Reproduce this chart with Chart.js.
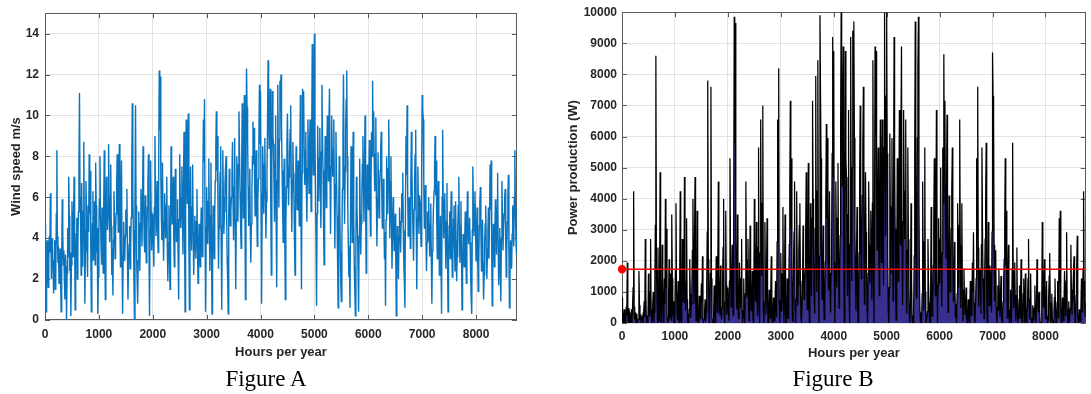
<!DOCTYPE html>
<html>
<head>
<meta charset="utf-8">
<script src="https://cdn.jsdelivr.net/npm/chart.js@4.4.1/dist/chart.umd.min.js"></script>
<style>
  html, body { margin: 0; padding: 0; background: #fff; }
  body { width: 1091px; height: 394px; position: relative; overflow: hidden; }
  canvas { position: absolute; top: 0; }
  #windChart { left: 0; }
  #powerChart { left: 540px; }
  .caption {
    position: absolute; top: 365px; line-height: 28px;
    font-family: "Liberation Serif", "DejaVu Serif", serif; font-size: 23px;
    color: #000; white-space: nowrap; transform: translateX(-50%);
  }
</style>
</head>
<body>
<canvas id="windChart" width="530" height="370"></canvas>
<canvas id="powerChart" width="551" height="370"></canvas>
<div class="caption" style="left:266px">Figure A</div>
<div class="caption" style="left:833px">Figure B</div>

<script>
// Sample spacing along the year, in hours
const HOUR_STEP = 10;

// Wind speed (m/s), one value every 10 h from hour 0 to 8760 (100 values per 1000 h)
const windSpeed = [
  // 0 - 990 h
  4.7,2.6,0.4,3.1,3.9,2.2,1.6,3.0,4.1,3.3, 6.2,3.8,2.0,4.0,3.6,2.5,1.3,2.9,3.9,1.5,
  2.1,5.2,8.3,4.1,2.8,3.6,1.8,2.4,3.5,1.9, 0.4,2.8,5.9,4.2,2.7,3.4,1.9,1.0,3.2,2.6,
  0.0,2.3,4.5,3.1,7.0,5.1,2.4,3.3,0.2,2.7, 5.8,4.6,3.1,5.0,7.0,3.9,0.5,2.9,4.2,5.0,
  2.0,3.6,5.3,7.4,11.1,6.0,4.9,2.2,6.7,4.1, 2.6,5.3,8.7,4.4,0.8,3.4,6.8,5.4,3.5,2.1,
  5.6,4.3,8.1,5.2,7.3,3.5,0.4,2.6,4.7,6.3, 2.9,3.9,5.8,2.7,7.7,5.6,3.3,4.5,0.3,2.1,
  // 1000 - 1990 h
  4.2,5.9,8.0,5.1,3.6,2.7,5.5,4.0,2.3,5.6, 8.3,3.4,1.0,4.5,7.0,6.1,4.4,5.3,8.6,6.0,
  3.8,5.4,7.6,4.6,2.2,3.5,1.2,3.9,6.3,4.9, 3.0,4.3,5.2,6.6,8.1,5.8,4.3,6.9,8.6,4.7,
  2.6,5.0,7.8,3.2,0.3,2.9,4.8,3.5,2.9,4.1, 5.4,4.4,6.4,3.1,1.0,2.8,3.7,4.6,2.5,3.6,
  5.0,7.2,10.6,6.3,4.4,2.1,0.0,5.8,10.5,5.6, 3.1,1.9,0.8,2.9,5.3,4.1,2.4,4.7,6.4,5.2,
  3.6,6.0,8.5,5.8,4.0,3.3,6.1,4.2,2.8,4.0, 5.5,6.7,8.1,3.6,0.2,4.4,7.8,5.3,3.4,4.6,
  // 2000 - 2990 h
  5.2,3.7,2.6,5.5,9.0,6.2,4.1,5.0,6.8,4.6, 3.3,7.5,12.2,9.3,11.9,7.0,5.0,3.9,7.7,4.8,
  2.9,4.4,6.2,5.1,4.0,5.6,7.0,3.6,1.9,3.8, 5.6,3.2,1.5,4.9,8.5,6.3,4.7,5.9,7.0,4.1,
  2.6,5.2,7.4,5.0,3.8,4.7,5.9,3.3,1.0,4.9, 8.1,6.0,4.5,5.8,7.5,5.1,3.2,6.7,9.2,4.1,
  0.4,6.5,9.8,7.2,5.7,8.0,10.1,3.9,0.5,4.4, 7.5,5.2,3.4,5.5,7.6,4.3,2.2,3.6,5.1,4.0,
  3.0,4.8,6.4,3.7,1.8,3.4,4.7,3.5,2.6,4.2, 5.5,4.0,3.1,6.9,9.8,7.7,10.8,4.6,0.4,3.8,
  // 3000 - 3990 h
  6.5,4.9,3.7,5.8,7.9,4.6,2.4,5.1,7.7,3.5, 0.3,3.2,5.6,4.4,3.0,5.2,6.8,8.4,10.2,7.3,
  9.0,5.6,2.5,4.5,6.1,7.2,8.5,3.9,0.5,4.6, 8.3,6.0,4.2,5.3,6.6,7.4,8.0,5.5,3.1,2.0,
  0.3,5.1,7.4,5.9,4.6,5.4,6.0,7.1,8.7,5.8, 3.9,6.5,8.9,4.8,1.5,4.9,8.0,6.2,4.8,7.6,
  10.2,8.1,6.3,4.7,3.5,7.3,10.6,7.0,5.0,8.3, 11.0,5.9,1.0,6.4,12.3,10.4,9.0,6.5,4.6,6.0,
  7.4,4.5,2.8,4.7,6.2,8.0,9.7,7.6,9.4,6.8, 5.1,7.0,8.3,5.4,3.6,5.8,6.9,9.1,11.5,8.6,
  // 4000 - 4990 h
  11.2,6.2,0.8,5.5,8.5,7.0,5.2,7.6,8.9,6.3, 4.0,5.8,7.1,9.6,12.7,9.9,8.4,10.2,11.3,5.9,
  2.2,7.4,11.2,9.0,8.6,6.7,4.8,7.7,10.0,5.1, 1.6,6.8,11.5,8.1,5.5,8.8,11.7,10.8,12.0,9.4,
  7.3,5.5,3.8,6.4,7.9,4.2,1.0,4.6,6.5,8.6, 10.1,7.5,5.6,7.0,8.2,9.3,10.5,6.9,4.3,6.6,
  8.7,7.2,6.0,3.9,2.2,5.8,8.5,6.8,5.4,6.7, 7.8,6.1,4.6,8.0,11.0,5.6,1.5,7.2,11.3,9.5,
  11.2,8.3,6.6,8.1,9.2,6.5,4.8,7.4,9.8,8.0, 6.2,8.6,9.8,7.0,5.3,9.2,13.5,9.0,7.1,10.3,
  // 5000 - 5990 h
  14.0,9.1,6.4,3.8,0.7,5.2,9.5,7.4,5.8,7.9, 9.4,6.8,4.5,8.2,11.5,9.0,7.3,4.6,2.7,6.0,
  9.0,7.1,5.5,7.9,10.0,8.4,6.8,9.6,11.3,7.2, 4.2,7.5,10.0,8.3,7.0,8.1,9.8,6.2,3.5,6.6,
  9.2,7.0,5.1,2.9,0.6,4.4,8.0,5.6,3.3,1.8, 0.9,3.9,6.4,9.1,12.0,7.5,4.7,7.3,9.4,10.8,
  12.2,8.0,5.3,3.6,2.1,3.0,0.6,4.9,8.5,6.1, 3.8,6.9,9.2,5.0,2.6,1.4,0.2,3.7,7.0,5.5,
  4.4,2.5,0.4,4.1,7.9,5.2,3.2,4.7,6.1,7.6, 9.0,6.3,4.8,7.7,10.0,5.9,2.3,5.3,7.6,6.4,
  // 6000 - 6990 h
  5.4,7.0,8.8,6.1,4.1,6.5,9.2,8.0,11.7,8.6, 10.2,7.7,6.3,8.1,9.9,6.0,3.6,5.7,8.2,6.6,
  5.0,6.2,7.3,8.3,9.2,6.4,4.5,5.3,6.9,5.0, 3.0,4.3,0.7,4.9,8.0,6.6,5.2,7.4,9.8,6.8,
  4.0,6.3,8.0,5.1,2.5,4.2,6.0,4.6,3.4,4.4, 5.2,3.0,0.2,3.1,4.6,3.7,2.0,4.1,5.5,4.5,
  3.3,4.8,6.2,5.0,7.2,4.4,2.7,1.8,0.6,5.6, 9.0,7.1,10.5,6.7,4.1,5.2,6.0,5.6,3.5,6.8,
  9.2,7.3,5.6,4.2,2.9,5.4,7.0,8.1,9.3,4.7, 1.5,5.0,7.5,5.8,4.2,6.1,5.8,4.9,3.6,7.2,
  // 7000 - 7990 h
  11.0,10.3,9.8,6.8,4.5,5.2,6.6,4.1,2.4,3.8, 5.3,3.9,6.0,4.6,3.1,4.7,5.7,2.9,0.8,3.4,
  4.4,5.5,6.3,7.4,9.0,6.1,7.8,5.0,3.0,5.6, 6.8,4.0,2.2,3.8,5.1,2.6,0.3,6.0,9.3,5.9,
  4.0,5.4,6.2,4.1,2.5,4.8,6.7,3.2,0.4,3.0, 4.6,5.3,3.0,4.9,6.3,3.6,2.1,3.4,4.9,5.6,
  3.5,2.4,5.8,3.9,1.9,3.1,4.4,5.6,7.0,4.3, 2.8,4.6,5.8,3.0,0.5,2.3,4.2,3.6,2.6,4.0,
  5.3,3.3,1.8,4.2,6.3,5.0,3.7,4.6,5.0,3.8, 2.2,1.0,0.3,4.4,7.5,5.7,4.1,5.1,6.3,4.5,
  // 8000 - 8760 h
  2.9,4.3,5.5,3.2,1.4,2.7,4.6,5.7,6.5,4.4, 2.4,3.6,4.9,2.8,1.0,2.2,3.8,4.7,5.6,3.5,
  2.0,3.1,4.4,5.5,3.0,5.0,7.6,5.4,7.8,3.6, 0.7,2.9,4.7,3.9,2.6,4.4,5.9,4.8,3.2,5.5,
  7.2,3.9,1.7,3.0,4.5,2.4,0.9,4.0,6.8,5.1, 3.4,4.5,5.2,5.9,6.4,4.0,2.1,3.3,4.8,6.0,
  7.1,3.4,0.6,2.8,3.9,3.1,2.5,4.2,5.6,4.6, 3.6,6.0,8.3,5.5,4.0,3.2,4.4
];

// Turbine power production (W) at the same hours
const powerOutput = [
  // 0 - 990 h
  820,70,0,190,440,0,0,160,520,240, 1950,400,0,480,340,50,0,140,440,0,
  0,1140,4240,520,110,340,0,0,300,0, 0,110,1670,570,90,270,0,0,220,70,
  0,0,700,190,2700,1070,0,240,0,90, 1590,760,190,1000,2700,440,0,140,570,1000,
  0,340,1210,3140,8600,1750,940,0,2430,520, 70,1210,4850,660,0,270,2520,1280,300,0,
  1430,610,3990,1140,3030,300,0,70,820,2050, 140,440,1590,90,3490,1430,240,700,0,0,
  // 1000 - 1990 h
  570,1670,3850,1070,340,90,1350,480,0,1430, 4240,270,0,700,2700,1850,660,1210,4700,1750,
  400,1280,3370,760,0,300,0,440,2050,940, 160,610,1140,2340,3990,1590,610,2610,4700,820,
  70,1000,3610,220,0,140,880,300,140,520, 1280,660,2150,190,0,110,370,760,50,340,
  1000,2920,7800,2050,660,0,0,1590,7600,1430, 190,0,0,140,1210,520,0,820,2150,1140,
  340,1750,4550,1590,480,240,1850,570,110,480, 1350,2430,3990,340,0,660,3610,1210,270,760,
  // 2000 - 2990 h
  1140,370,70,1350,5300,1950,520,1000,2520,760, 240,3250,9850,5800,9650,2700,1000,440,3490,880,
  140,660,1950,1070,480,1430,2700,340,0,400, 1430,220,0,940,4550,2050,820,1670,2700,520,
  70,1140,3140,1000,400,820,1670,240,0,940, 3990,1750,700,1590,3250,1070,220,2430,5650,520,
  0,2250,6550,2920,1510,3850,7000,440,0,660, 3250,1140,270,1350,3370,610,0,340,1070,480,
  160,880,2150,370,0,270,820,300,70,570, 1350,480,190,2610,6550,3490,8200,760,0,400,
  // 3000 - 3990 h
  2250,940,370,1590,3730,760,0,1070,3490,300, 0,220,1430,660,160,1140,2520,4400,7150,3030,
  5300,1430,50,700,1850,2920,4550,440,0,760, 4240,1750,570,1210,2340,3140,3850,1350,190,0,
  0,1070,3140,1670,760,1280,1750,2810,4850,1590, 440,2250,5150,880,0,940,3850,1950,880,3370,
  7150,3990,2050,820,300,3030,7950,2700,1000,4240, 8450,1670,0,2150,9900,7450,5300,2250,760,1750,
  3140,700,110,820,1950,3850,6400,3370,5950,2520, 1070,2700,4240,1280,340,1590,2610,5450,9200,4700,
  // 4000 - 4990 h
  8750,1950,0,1350,4550,2700,1140,3370,5150,2050, 480,1590,2810,6250,10000,6700,4400,7150,8900,1670,
  0,3140,8750,5300,4700,2430,880,3490,6850,1070, 0,2520,9200,3990,1350,5000,9400,8300,9700,5950,
  3030,1350,400,2150,3730,570,0,760,2250,4700, 7000,3250,1430,2700,4100,5800,7600,2610,610,2340,
  4850,2920,1750,440,0,1590,4550,2520,1280,2430, 3610,1850,760,3850,8450,1430,0,2920,8900,6100,
  8750,4240,2340,3990,5650,2250,880,3140,6550,3850, 1950,4700,6550,2700,1210,5650,10000,5300,2810,7300,
  // 5000 - 5990 h
  10000,5450,2150,400,0,1140,6100,3140,1590,3730, 5950,2520,700,4100,9200,5300,3030,760,90,1750,
  5300,2810,1350,3730,6850,4400,2520,6250,8900,2920, 570,3250,6850,4240,2700,3990,6550,1950,300,2340,
  5650,2700,1070,140,0,660,3850,1430,240,0, 0,440,2150,5450,9700,3250,820,3030,5950,8300,
  9850,3850,1210,340,0,160,0,940,4550,1850, 400,2610,5650,1000,70,0,0,370,2700,1350,
  660,50,0,520,3730,1140,220,820,1850,3370, 5300,2050,880,3490,6850,1670,0,1210,3370,2150,
  // 6000 - 6990 h
  1280,2700,5000,1850,520,2250,5650,3850,8650,4700, 7150,3490,2050,3990,6700,1750,340,1510,4100,2340,
  1000,1950,3030,4240,5650,2150,700,1210,2610,1000, 160,610,0,940,3850,2340,1140,3140,6550,2520,
  480,2050,3850,1070,50,570,1750,760,270,660, 1140,160,0,190,760,370,0,520,1350,700,
  240,880,1950,1000,2920,660,90,0,0,1430, 5300,2810,7600,2430,520,1140,1750,1430,300,2520,
  5650,3030,1430,570,140,1280,2700,3990,5800,820, 0,1000,3250,1590,570,1850,1590,940,340,2920,
  // 7000 - 7990 h
  8700,7300,6550,2520,700,1140,2340,520,0,400, 1210,440,1750,760,190,820,1510,140,0,270,
  660,1350,2050,3140,5300,1850,3610,1000,160,1430, 2520,480,0,400,1070,70,0,1750,5800,1670,
  480,1280,1950,520,50,880,2430,220,0,160, 760,1210,160,940,2050,340,0,270,940,1430,
  300,0,1590,440,0,190,660,1430,2700,610, 110,760,1590,160,0,0,570,340,70,480,
  1210,240,0,570,2050,1000,370,760,1000,400, 0,0,0,660,3250,1510,520,1070,2050,700,
  // 8000 - 8760 h
  140,610,1350,220,0,90,760,1510,2250,660, 0,340,940,110,0,0,400,820,1430,300,
  0,190,660,1350,160,1000,3370,1280,3610,340, 0,140,820,440,70,660,1670,880,220,1350,
  2920,440,0,160,700,0,0,480,2520,1070, 270,700,1140,1670,2150,480,0,240,880,1750,
  2810,270,0,110,440,190,50,570,1430,760, 340,1750,4240,1350,480,220,660
];

// Yearly mean power (W), drawn as a horizontal reference line
const meanPower = 1730;

const HOURS_IN_YEAR = 8760;
const hourTicks = [0, 1000, 2000, 3000, 4000, 5000, 6000, 7000, 8000];
const windTicks = [0, 2, 4, 6, 8, 10, 12, 14];
const powerTicks = [0, 1000, 2000, 3000, 4000, 5000, 6000, 7000, 8000, 9000, 10000];

const hourOfYear = windSpeed.map((_, i) => i * HOUR_STEP);
const toPoints = (values) => values.map((v, i) => ({ x: hourOfYear[i], y: v }));

const TEXT = '#262626';
const GRID = '#e2e2e2';
const FRAME = '#5a5a5a';
const tickFont = { family: '"Liberation Sans", Arial, Helvetica, sans-serif', size: 12, weight: 'bold' };
const titleFont = { family: '"Liberation Sans", Arial, Helvetica, sans-serif', size: 13, weight: 'bold' };

// Box around the plot area plus short inward tick marks on all four sides
const axesBox = {
  id: 'axesBox',
  beforeDatasetsDraw(chart) {
    const { ctx, chartArea: a, scales: { x, y } } = chart;
    ctx.save();
    ctx.strokeStyle = FRAME;
    ctx.lineWidth = 1;
    ctx.beginPath();
    x.ticks.forEach(t => {
      const px = Math.round(x.getPixelForValue(t.value)) + 0.5;
      ctx.moveTo(px, a.bottom); ctx.lineTo(px, a.bottom - 5);
      ctx.moveTo(px, a.top); ctx.lineTo(px, a.top + 5);
    });
    y.ticks.forEach(t => {
      const py = Math.round(y.getPixelForValue(t.value)) + 0.5;
      ctx.moveTo(a.left, py); ctx.lineTo(a.left + 5, py);
      ctx.moveTo(a.right, py); ctx.lineTo(a.right - 5, py);
    });
    ctx.stroke();
    ctx.strokeRect(Math.round(a.left) + 0.5, Math.round(a.top) + 0.5,
                   Math.round(a.right - a.left) - 1, Math.round(a.bottom - a.top) - 1);
    ctx.restore();
  }
};

const plainNumber = v => String(v);

function xAxis(height, labelPad, titlePad) {
  return {
    type: 'linear', min: 0, max: HOURS_IN_YEAR,
    afterBuildTicks: s => { s.ticks = hourTicks.map(v => ({ value: v })); },
    afterFit: s => { s.height = height; },
    grid: { color: GRID, drawTicks: false },
    border: { display: false },
    ticks: { font: tickFont, color: TEXT, padding: labelPad, maxRotation: 0, autoSkip: false,
             callback: plainNumber },
    title: { display: true, text: 'Hours per year', font: titleFont, color: TEXT,
             padding: { top: 0, bottom: titlePad } }
  };
}

function yAxis(max, ticks, width, labelPad, title, titlePad) {
  return {
    type: 'linear', min: 0, max: max,
    afterBuildTicks: s => { s.ticks = ticks.map(v => ({ value: v })); },
    afterFit: s => { s.width = width; },
    grid: { color: GRID, drawTicks: false },
    border: { display: false },
    ticks: { font: tickFont, color: TEXT, padding: labelPad, autoSkip: false,
             callback: plainNumber },
    title: { display: true, text: title, font: titleFont, color: TEXT,
             padding: { top: titlePad, bottom: 0 } }
  };
}

const common = {
  responsive: false,
  animation: false,
  devicePixelRatio: 1,
  parsing: false,
  plugins: { legend: { display: false }, tooltip: { enabled: false } },
  elements: { point: { radius: 0 }, line: { tension: 0 } }
};

new Chart(document.getElementById('windChart'), {
  type: 'line',
  data: {
    datasets: [{
      data: toPoints(windSpeed),
      borderColor: '#0a74be',
      borderWidth: 1.4,
      fill: false
    }]
  },
  options: Object.assign({}, common, {
    layout: { padding: { left: 0, top: 9, right: 13, bottom: 0 } },
    scales: {
      x: xAxis(50, 7, 10),
      y: yAxis(15, windTicks, 45, 6, 'Wind speed m/s', 9)
    }
  }),
  plugins: [axesBox]
});

new Chart(document.getElementById('powerChart'), {
  type: 'line',
  data: {
    datasets: [{
      data: toPoints(powerOutput),
      borderColor: '#000000',
      borderWidth: 1.25,
      backgroundColor: '#37308f',
      fill: 'origin',
      order: 1
    }, {
      data: [{ x: 0, y: meanPower }, { x: HOURS_IN_YEAR, y: meanPower }],
      borderColor: '#ff0000',
      borderWidth: 1.3,
      pointRadius: [3.5, 0],
      pointBackgroundColor: '#ff0000',
      pointBorderColor: '#ff0000',
      fill: false,
      clip: false,
      order: 0
    }]
  },
  options: Object.assign({}, common, {
    layout: { padding: { left: 0, top: 10, right: 2, bottom: 0 } },
    scales: {
      x: xAxis(47, 6, 9),
      y: yAxis(10000, powerTicks, 82, 5, 'Power production (W)', 26)
    }
  }),
  plugins: [axesBox]
});
</script>
</body>
</html>
